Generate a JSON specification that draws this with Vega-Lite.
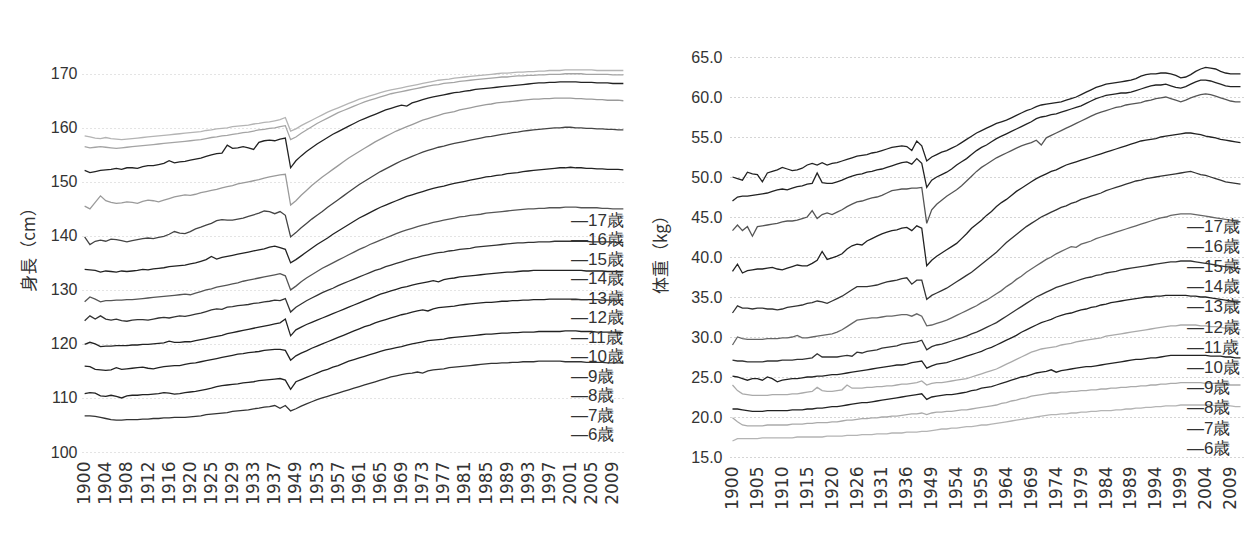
{
"$schema":"https://vega.github.io/schema/vega-lite/v6.json",
"background":"white",
"padding":{"left":20,"top":49,"right":5,"bottom":5},
"spacing":26,
"datasets":{
"height":[
{"t":"1900","6":106.7,"7":110.8,"8":115.9,"9":119.9,"10":124.3,"11":127.8,"12":133.8,"13":139.8,"14":145.5,"15":152.1,"16":156.5,"17":158.5},
{"t":"1901","6":106.7,"7":111.0,"8":115.8,"9":120.3,"10":125.2,"11":128.7,"12":133.7,"13":138.4,"14":145.0,"15":151.7,"16":156.3,"17":158.3},
{"t":"1902","6":106.6,"7":110.9,"8":115.3,"9":120.0,"10":124.6,"11":128.3,"12":133.6,"13":139.0,"14":146.2,"15":151.9,"16":156.4,"17":158.1},
{"t":"1903","6":106.4,"7":110.4,"8":115.2,"9":119.5,"10":125.2,"11":127.8,"12":133.3,"13":139.2,"14":147.4,"15":152.1,"16":156.5,"17":158.0},
{"t":"1904","6":106.2,"7":110.3,"8":115.1,"9":119.6,"10":124.6,"11":128.0,"12":133.5,"13":139.0,"14":146.5,"15":152.2,"16":156.4,"17":158.2},
{"t":"1905","6":106.0,"7":110.5,"8":115.2,"9":119.6,"10":124.4,"11":128.0,"12":133.4,"13":139.4,"14":146.2,"15":152.3,"16":156.3,"17":158.0},
{"t":"1906","6":105.9,"7":110.3,"8":115.6,"9":119.7,"10":124.6,"11":128.1,"12":133.3,"13":139.3,"14":146.0,"15":152.5,"16":156.2,"17":157.9},
{"t":"1907","6":105.9,"7":110.0,"8":115.3,"9":119.7,"10":124.3,"11":128.1,"12":133.5,"13":139.1,"14":146.1,"15":152.3,"16":156.3,"17":157.8},
{"t":"1908","6":106.0,"7":110.4,"8":115.4,"9":119.7,"10":124.2,"11":128.2,"12":133.4,"13":138.9,"14":146.3,"15":152.6,"16":156.4,"17":157.9},
{"t":"1909","6":106.0,"7":110.5,"8":115.5,"9":119.8,"10":124.4,"11":128.2,"12":133.5,"13":139.1,"14":146.2,"15":152.6,"16":156.5,"17":158.0},
{"t":"1910","6":106.0,"7":110.5,"8":115.6,"9":119.8,"10":124.5,"11":128.3,"12":133.6,"13":139.3,"14":146.0,"15":152.5,"16":156.6,"17":158.1},
{"t":"1911","6":106.1,"7":110.6,"8":115.7,"9":119.9,"10":124.5,"11":128.4,"12":133.8,"13":139.5,"14":146.4,"15":152.8,"16":156.7,"17":158.2},
{"t":"1912","6":106.1,"7":110.6,"8":115.5,"9":119.9,"10":124.4,"11":128.5,"12":133.7,"13":139.6,"14":146.6,"15":153.0,"16":156.8,"17":158.3},
{"t":"1913","6":106.2,"7":110.7,"8":115.4,"9":120.0,"10":124.6,"11":128.6,"12":133.9,"13":139.5,"14":146.5,"15":153.0,"16":156.9,"17":158.4},
{"t":"1914","6":106.2,"7":110.8,"8":115.6,"9":120.1,"10":124.8,"11":128.7,"12":134.0,"13":139.7,"14":146.3,"15":153.2,"16":157.0,"17":158.5},
{"t":"1915","6":106.3,"7":111.0,"8":115.8,"9":120.2,"10":124.9,"11":128.8,"12":134.1,"13":139.9,"14":146.6,"15":153.4,"16":157.1,"17":158.6},
{"t":"1916","6":106.3,"7":110.9,"8":115.9,"9":120.5,"10":124.8,"11":128.9,"12":134.3,"13":140.3,"14":146.9,"15":153.9,"16":157.2,"17":158.7},
{"t":"1917","6":106.4,"7":110.7,"8":116.0,"9":120.3,"10":125.0,"11":129.0,"12":134.4,"13":140.8,"14":147.2,"15":153.5,"16":157.3,"17":158.8},
{"t":"1918","6":106.4,"7":110.8,"8":116.0,"9":120.3,"10":125.2,"11":129.1,"12":134.5,"13":140.5,"14":147.4,"15":153.7,"16":157.4,"17":158.9},
{"t":"1919","6":106.4,"7":111.0,"8":116.2,"9":120.4,"10":125.1,"11":129.2,"12":134.6,"13":140.4,"14":147.6,"15":153.8,"16":157.5,"17":159.0},
{"t":"1920","6":106.5,"7":111.1,"8":116.4,"9":120.4,"10":125.3,"11":129.1,"12":134.8,"13":140.8,"14":147.5,"15":154.0,"16":157.6,"17":159.1},
{"t":"1921","6":106.6,"7":111.2,"8":116.5,"9":120.6,"10":125.5,"11":129.4,"12":135.0,"13":141.3,"14":147.7,"15":154.2,"16":157.7,"17":159.2},
{"t":"1922","6":106.7,"7":111.4,"8":116.7,"9":120.8,"10":125.7,"11":129.7,"12":135.3,"13":141.6,"14":148.0,"15":154.4,"16":157.8,"17":159.3},
{"t":"1924","6":106.9,"7":111.6,"8":116.9,"9":121.0,"10":126.0,"11":130.0,"12":135.6,"13":142.0,"14":148.2,"15":154.7,"16":158.0,"17":159.5},
{"t":"1925","6":107.0,"7":111.8,"8":117.1,"9":121.2,"10":126.3,"11":130.2,"12":136.2,"13":142.3,"14":148.4,"15":155.0,"16":158.2,"17":159.6},
{"t":"1926","6":107.1,"7":112.1,"8":117.3,"9":121.4,"10":126.5,"11":130.5,"12":135.7,"13":142.8,"14":148.6,"15":155.2,"16":158.3,"17":159.8},
{"t":"1927","6":107.2,"7":112.3,"8":117.5,"9":121.6,"10":126.4,"11":130.7,"12":136.0,"13":143.0,"14":148.9,"15":155.3,"16":158.5,"17":159.9},
{"t":"1928","6":107.3,"7":112.4,"8":117.7,"9":121.9,"10":126.8,"11":130.9,"12":136.2,"13":142.9,"14":149.1,"15":156.8,"16":158.6,"17":160.0},
{"t":"1929","6":107.5,"7":112.5,"8":117.9,"9":122.1,"10":126.9,"11":131.1,"12":136.4,"13":142.9,"14":149.3,"15":156.2,"16":158.8,"17":160.2},
{"t":"1930","6":107.6,"7":112.6,"8":118.1,"9":122.3,"10":127.1,"11":131.3,"12":136.6,"13":143.1,"14":149.6,"15":156.3,"16":158.9,"17":160.3},
{"t":"1931","6":107.7,"7":112.8,"8":118.2,"9":122.5,"10":127.2,"11":131.6,"12":136.8,"13":143.3,"14":149.8,"15":156.5,"16":159.1,"17":160.4},
{"t":"1932","6":107.8,"7":112.9,"8":118.4,"9":122.7,"10":127.3,"11":131.8,"12":137.0,"13":143.6,"14":150.0,"15":156.3,"16":159.2,"17":160.5},
{"t":"1933","6":108.0,"7":113.0,"8":118.5,"9":122.9,"10":127.5,"11":132.0,"12":137.2,"13":143.9,"14":150.2,"15":156.0,"16":159.4,"17":160.7},
{"t":"1934","6":108.1,"7":113.2,"8":118.6,"9":123.1,"10":127.6,"11":132.2,"12":137.4,"13":144.2,"14":150.4,"15":157.3,"16":159.6,"17":160.8},
{"t":"1935","6":108.3,"7":113.3,"8":118.8,"9":123.3,"10":127.8,"11":132.4,"12":137.6,"13":144.6,"14":150.7,"15":157.6,"16":159.7,"17":161.0},
{"t":"1936","6":108.4,"7":113.4,"8":118.9,"9":123.5,"10":127.9,"11":132.6,"12":137.9,"13":144.5,"14":150.9,"15":157.7,"16":159.9,"17":161.1},
{"t":"1937","6":108.6,"7":113.5,"8":119.0,"9":123.7,"10":128.1,"11":132.8,"12":138.1,"13":144.1,"14":151.1,"15":157.6,"16":160.0,"17":161.3},
{"t":"1938","6":108.1,"7":113.6,"8":119.0,"9":123.9,"10":128.0,"11":133.0,"12":137.8,"13":144.5,"14":151.3,"15":157.9,"16":160.2,"17":161.5},
{"t":"1939","6":108.6,"7":113.3,"8":118.8,"9":124.6,"10":128.4,"11":132.6,"12":137.5,"13":143.8,"14":151.4,"15":158.1,"16":160.4,"17":161.9},
{"t":"1948","6":107.6,"7":111.6,"8":117.0,"9":121.5,"10":125.9,"11":130.0,"12":135.0,"13":139.8,"14":145.7,"15":152.6,"16":157.8,"17":159.4},
{"t":"1949","6":108.0,"7":113.0,"8":117.8,"9":122.6,"10":126.8,"11":130.7,"12":135.6,"13":140.6,"14":146.5,"15":153.9,"16":158.3,"17":159.8},
{"t":"1950","6":108.5,"7":113.4,"8":118.3,"9":123.1,"10":127.4,"11":131.5,"12":136.3,"13":141.5,"14":147.5,"15":154.8,"16":159.0,"17":160.4},
{"t":"1951","6":108.9,"7":113.8,"8":118.7,"9":123.6,"10":128.0,"11":132.2,"12":137.0,"13":142.3,"14":148.4,"15":155.6,"16":159.6,"17":160.9},
{"t":"1952","6":109.3,"7":114.2,"8":119.2,"9":124.0,"10":128.5,"11":132.8,"12":137.7,"13":143.1,"14":149.3,"15":156.3,"16":160.2,"17":161.4},
{"t":"1953","6":109.7,"7":114.6,"8":119.6,"9":124.4,"10":129.0,"11":133.4,"12":138.4,"13":143.8,"14":150.1,"15":157.0,"16":160.8,"17":161.9},
{"t":"1954","6":110.0,"7":115.0,"8":120.0,"9":124.8,"10":129.5,"11":134.0,"12":139.0,"13":144.5,"14":150.9,"15":157.6,"16":161.3,"17":162.4},
{"t":"1955","6":110.3,"7":115.3,"8":120.4,"9":125.2,"10":129.9,"11":134.5,"12":139.6,"13":145.3,"14":151.6,"15":158.2,"16":161.8,"17":162.9},
{"t":"1956","6":110.6,"7":115.7,"8":120.8,"9":125.6,"10":130.3,"11":135.0,"12":140.3,"13":146.0,"14":152.3,"15":158.8,"16":162.3,"17":163.3},
{"t":"1957","6":110.9,"7":116.0,"8":121.2,"9":126.0,"10":130.8,"11":135.5,"12":140.9,"13":146.7,"14":153.0,"15":159.3,"16":162.8,"17":163.7},
{"t":"1958","6":111.2,"7":116.4,"8":121.6,"9":126.4,"10":131.2,"11":136.0,"12":141.5,"13":147.4,"14":153.7,"15":159.8,"16":163.2,"17":164.1},
{"t":"1959","6":111.5,"7":116.8,"8":122.0,"9":126.8,"10":131.6,"11":136.5,"12":142.1,"13":148.1,"14":154.4,"15":160.3,"16":163.6,"17":164.5},
{"t":"1960","6":111.8,"7":117.1,"8":122.4,"9":127.2,"10":132.0,"11":137.0,"12":142.7,"13":148.8,"14":155.0,"15":160.8,"16":164.0,"17":164.9},
{"t":"1961","6":112.1,"7":117.4,"8":122.8,"9":127.6,"10":132.4,"11":137.5,"12":143.3,"13":149.5,"14":155.6,"15":161.3,"16":164.4,"17":165.3},
{"t":"1962","6":112.4,"7":117.7,"8":123.2,"9":128.0,"10":132.8,"11":137.9,"12":143.8,"13":150.1,"14":156.2,"15":161.7,"16":164.8,"17":165.6},
{"t":"1963","6":112.7,"7":118.0,"8":123.5,"9":128.4,"10":133.2,"11":138.4,"12":144.3,"13":150.7,"14":156.8,"15":162.1,"16":165.1,"17":165.9},
{"t":"1964","6":113.0,"7":118.3,"8":123.9,"9":128.8,"10":133.6,"11":138.8,"12":144.8,"13":151.3,"14":157.4,"15":162.5,"16":165.4,"17":166.2},
{"t":"1965","6":113.3,"7":118.6,"8":124.2,"9":129.2,"10":133.9,"11":139.2,"12":145.3,"13":151.9,"14":157.9,"15":162.9,"16":165.7,"17":166.5},
{"t":"1966","6":113.6,"7":118.9,"8":124.5,"9":129.5,"10":134.3,"11":139.6,"12":145.7,"13":152.4,"14":158.4,"15":163.3,"16":166.0,"17":166.8},
{"t":"1967","6":113.9,"7":119.1,"8":124.8,"9":129.8,"10":134.6,"11":140.0,"12":146.1,"13":152.9,"14":158.9,"15":163.6,"16":166.3,"17":167.0},
{"t":"1968","6":114.1,"7":119.3,"8":125.1,"9":130.1,"10":134.9,"11":140.4,"12":146.5,"13":153.4,"14":159.4,"15":163.9,"16":166.5,"17":167.2},
{"t":"1969","6":114.3,"7":119.5,"8":125.4,"9":130.4,"10":135.2,"11":140.8,"12":146.9,"13":153.9,"14":159.8,"15":164.2,"16":166.7,"17":167.4},
{"t":"1970","6":114.5,"7":119.8,"8":125.6,"9":130.6,"10":135.5,"11":141.1,"12":147.3,"13":154.3,"14":160.2,"15":164.0,"16":166.9,"17":167.6},
{"t":"1971","6":114.6,"7":120.0,"8":125.9,"9":130.9,"10":135.8,"11":141.4,"12":147.6,"13":154.7,"14":160.6,"15":164.6,"16":167.1,"17":167.8},
{"t":"1972","6":114.8,"7":120.2,"8":126.1,"9":131.1,"10":136.0,"11":141.7,"12":147.9,"13":155.1,"14":161.0,"15":164.9,"16":167.3,"17":168.0},
{"t":"1973","6":114.6,"7":120.4,"8":126.3,"9":131.3,"10":136.3,"11":142.0,"12":148.2,"13":155.5,"14":161.4,"15":165.2,"16":167.5,"17":168.2},
{"t":"1974","6":115.0,"7":120.6,"8":126.1,"9":131.5,"10":136.5,"11":142.2,"12":148.5,"13":155.8,"14":161.7,"15":165.5,"16":167.7,"17":168.4},
{"t":"1975","6":115.2,"7":120.7,"8":126.5,"9":131.7,"10":136.7,"11":142.5,"12":148.8,"13":156.1,"14":162.0,"15":165.7,"16":167.9,"17":168.6},
{"t":"1976","6":115.3,"7":120.8,"8":126.7,"9":131.5,"10":136.9,"11":142.7,"12":149.0,"13":156.4,"14":162.3,"15":165.9,"16":168.0,"17":168.8},
{"t":"1977","6":115.4,"7":120.9,"8":126.8,"9":131.9,"10":137.0,"11":142.9,"12":149.2,"13":156.6,"14":162.6,"15":166.1,"16":168.2,"17":168.9},
{"t":"1978","6":115.6,"7":121.1,"8":126.9,"9":132.1,"10":137.2,"11":143.1,"12":149.5,"13":156.9,"14":162.8,"15":166.3,"16":168.3,"17":169.0},
{"t":"1979","6":115.7,"7":121.2,"8":127.0,"9":132.2,"10":137.3,"11":143.3,"12":149.7,"13":157.1,"14":163.0,"15":166.5,"16":168.4,"17":169.2},
{"t":"1980","6":115.8,"7":121.3,"8":127.2,"9":132.4,"10":137.5,"11":143.5,"12":149.9,"13":157.3,"14":163.3,"15":166.6,"16":168.6,"17":169.3},
{"t":"1981","6":115.9,"7":121.4,"8":127.3,"9":132.5,"10":137.6,"11":143.6,"12":150.1,"13":157.5,"14":163.5,"15":166.8,"16":168.7,"17":169.4},
{"t":"1982","6":116.0,"7":121.5,"8":127.4,"9":132.6,"10":137.7,"11":143.8,"12":150.3,"13":157.7,"14":163.7,"15":166.9,"16":168.8,"17":169.5},
{"t":"1983","6":116.1,"7":121.6,"8":127.5,"9":132.7,"10":137.9,"11":143.9,"12":150.5,"13":157.9,"14":163.9,"15":167.1,"16":168.9,"17":169.6},
{"t":"1984","6":116.2,"7":121.7,"8":127.6,"9":132.8,"10":138.0,"11":144.0,"12":150.7,"13":158.1,"14":164.1,"15":167.2,"16":169.0,"17":169.7},
{"t":"1985","6":116.3,"7":121.8,"8":127.7,"9":132.9,"10":138.1,"11":144.2,"12":150.9,"13":158.3,"14":164.3,"15":167.3,"16":169.1,"17":169.8},
{"t":"1986","6":116.4,"7":121.8,"8":127.7,"9":133.0,"10":138.2,"11":144.3,"12":151.0,"13":158.4,"14":164.4,"15":167.4,"16":169.2,"17":169.9},
{"t":"1987","6":116.4,"7":121.9,"8":127.8,"9":133.1,"10":138.3,"11":144.4,"12":151.2,"13":158.6,"14":164.6,"15":167.5,"16":169.3,"17":170.0},
{"t":"1988","6":116.5,"7":122.0,"8":127.9,"9":133.2,"10":138.4,"11":144.5,"12":151.3,"13":158.8,"14":164.7,"15":167.6,"16":169.4,"17":170.1},
{"t":"1989","6":116.5,"7":122.0,"8":127.9,"9":133.3,"10":138.5,"11":144.6,"12":151.5,"13":158.9,"14":164.8,"15":167.7,"16":169.4,"17":170.1},
{"t":"1990","6":116.6,"7":122.1,"8":128.0,"9":133.3,"10":138.6,"11":144.7,"12":151.6,"13":159.1,"14":164.9,"15":167.8,"16":169.5,"17":170.2},
{"t":"1991","6":116.6,"7":122.1,"8":128.0,"9":133.4,"10":138.7,"11":144.8,"12":151.7,"13":159.2,"14":165.0,"15":167.9,"16":169.6,"17":170.3},
{"t":"1992","6":116.7,"7":122.2,"8":128.1,"9":133.5,"10":138.7,"11":144.9,"12":151.9,"13":159.4,"14":165.1,"15":168.0,"16":169.6,"17":170.3},
{"t":"1993","6":116.7,"7":122.2,"8":128.1,"9":133.5,"10":138.8,"11":145.0,"12":152.0,"13":159.5,"14":165.2,"15":168.1,"16":169.7,"17":170.4},
{"t":"1994","6":116.7,"7":122.2,"8":128.2,"9":133.6,"10":138.8,"11":145.0,"12":152.1,"13":159.6,"14":165.3,"15":168.2,"16":169.7,"17":170.4},
{"t":"1995","6":116.8,"7":122.3,"8":128.2,"9":133.6,"10":138.9,"11":145.1,"12":152.2,"13":159.7,"14":165.3,"15":168.3,"16":169.8,"17":170.5},
{"t":"1996","6":116.8,"7":122.3,"8":128.2,"9":133.6,"10":138.9,"11":145.1,"12":152.3,"13":159.8,"14":165.4,"15":168.3,"16":169.8,"17":170.5},
{"t":"1997","6":116.8,"7":122.3,"8":128.3,"9":133.6,"10":138.9,"11":145.2,"12":152.4,"13":159.9,"14":165.4,"15":168.4,"16":169.9,"17":170.6},
{"t":"1998","6":116.8,"7":122.3,"8":128.3,"9":133.6,"10":139.0,"11":145.2,"12":152.5,"13":160.0,"14":165.5,"15":168.4,"16":169.9,"17":170.6},
{"t":"1999","6":116.8,"7":122.3,"8":128.3,"9":133.6,"10":139.0,"11":145.2,"12":152.6,"13":160.0,"14":165.5,"15":168.5,"16":169.9,"17":170.6},
{"t":"2000","6":116.7,"7":122.4,"8":128.3,"9":133.6,"10":139.0,"11":145.3,"12":152.6,"13":160.1,"14":165.5,"15":168.5,"16":170.0,"17":170.7},
{"t":"2001","6":116.7,"7":122.4,"8":128.3,"9":133.6,"10":139.0,"11":145.3,"12":152.7,"13":160.1,"14":165.5,"15":168.5,"16":170.0,"17":170.7},
{"t":"2002","6":116.7,"7":122.4,"8":128.3,"9":133.6,"10":139.0,"11":145.3,"12":152.6,"13":160.0,"14":165.4,"15":168.5,"16":170.0,"17":170.7},
{"t":"2003","6":116.7,"7":122.3,"8":128.2,"9":133.6,"10":139.0,"11":145.2,"12":152.6,"13":160.0,"14":165.4,"15":168.4,"16":170.0,"17":170.7},
{"t":"2004","6":116.6,"7":122.3,"8":128.2,"9":133.5,"10":139.0,"11":145.2,"12":152.5,"13":159.9,"14":165.3,"15":168.4,"16":169.9,"17":170.7},
{"t":"2005","6":116.6,"7":122.3,"8":128.2,"9":133.5,"10":138.9,"11":145.2,"12":152.5,"13":159.9,"14":165.3,"15":168.4,"16":169.9,"17":170.7},
{"t":"2006","6":116.6,"7":122.2,"8":128.2,"9":133.5,"10":138.9,"11":145.2,"12":152.4,"13":159.8,"14":165.2,"15":168.3,"16":169.9,"17":170.6},
{"t":"2007","6":116.6,"7":122.2,"8":128.1,"9":133.5,"10":138.9,"11":145.1,"12":152.4,"13":159.8,"14":165.2,"15":168.3,"16":169.9,"17":170.6},
{"t":"2008","6":116.5,"7":122.2,"8":128.1,"9":133.4,"10":138.9,"11":145.1,"12":152.3,"13":159.7,"14":165.1,"15":168.3,"16":169.9,"17":170.6},
{"t":"2009","6":116.5,"7":122.2,"8":128.1,"9":133.4,"10":138.9,"11":145.0,"12":152.3,"13":159.7,"14":165.1,"15":168.2,"16":169.8,"17":170.6},
{"t":"2010","6":116.5,"7":122.1,"8":128.1,"9":133.4,"10":138.8,"11":145.0,"12":152.3,"13":159.6,"14":165.1,"15":168.2,"16":169.8,"17":170.6},
{"t":"2011","6":116.5,"7":122.1,"8":128.0,"9":133.4,"10":138.8,"11":145.0,"12":152.2,"13":159.6,"14":165.0,"15":168.2,"16":169.8,"17":170.6}
],
"weight":[
{"t":"1900","6":17.0,"7":19.9,"8":21.0,"9":24.0,"10":25.1,"11":27.1,"12":29.0,"13":33.0,"14":38.2,"15":43.3,"16":47.0,"17":50.0},
{"t":"1901","6":17.3,"7":19.4,"8":21.0,"9":23.3,"10":25.0,"11":27.0,"12":30.0,"13":33.9,"14":39.1,"15":44.0,"16":47.5,"17":49.8},
{"t":"1902","6":17.3,"7":19.0,"8":20.9,"9":22.9,"10":24.8,"11":27.0,"12":29.8,"13":33.6,"14":38.0,"15":43.3,"16":47.6,"17":49.6},
{"t":"1903","6":17.3,"7":18.9,"8":20.8,"9":22.8,"10":24.6,"11":26.9,"12":29.7,"13":33.6,"14":38.3,"15":43.8,"16":47.6,"17":50.6},
{"t":"1904","6":17.3,"7":18.9,"8":20.7,"9":22.7,"10":24.8,"11":26.9,"12":29.7,"13":33.5,"14":38.4,"15":42.6,"16":47.7,"17":50.4},
{"t":"1905","6":17.3,"7":18.9,"8":20.7,"9":22.7,"10":24.8,"11":26.9,"12":29.7,"13":33.6,"14":38.5,"15":43.8,"16":47.8,"17":50.3},
{"t":"1906","6":17.4,"7":18.9,"8":20.7,"9":22.7,"10":24.6,"11":26.9,"12":29.7,"13":33.6,"14":38.5,"15":43.9,"16":47.9,"17":49.4},
{"t":"1907","6":17.4,"7":19.0,"8":20.8,"9":22.7,"10":25.0,"11":27.0,"12":29.8,"13":33.5,"14":38.6,"15":44.0,"16":48.0,"17":50.5},
{"t":"1908","6":17.4,"7":19.0,"8":20.8,"9":22.8,"10":24.8,"11":27.0,"12":29.8,"13":33.5,"14":38.7,"15":44.1,"16":48.2,"17":50.7},
{"t":"1909","6":17.4,"7":19.0,"8":20.8,"9":22.8,"10":24.4,"11":27.0,"12":29.8,"13":33.4,"14":38.5,"15":44.2,"16":48.4,"17":50.9},
{"t":"1910","6":17.4,"7":19.0,"8":20.8,"9":22.8,"10":24.6,"11":27.1,"12":29.9,"13":33.5,"14":38.4,"15":44.4,"16":48.5,"17":51.2},
{"t":"1911","6":17.4,"7":19.0,"8":20.8,"9":22.8,"10":24.7,"11":27.1,"12":29.9,"13":33.7,"14":38.6,"15":44.5,"16":48.4,"17":51.0},
{"t":"1912","6":17.4,"7":19.1,"8":20.9,"9":22.9,"10":24.8,"11":27.1,"12":30.0,"13":33.8,"14":38.8,"15":44.5,"16":48.6,"17":50.8},
{"t":"1913","6":17.5,"7":19.1,"8":20.9,"9":22.9,"10":24.8,"11":27.2,"12":30.2,"13":33.9,"14":39.0,"15":44.6,"16":48.8,"17":50.9},
{"t":"1914","6":17.5,"7":19.1,"8":20.9,"9":23.0,"10":24.9,"11":27.2,"12":29.9,"13":34.0,"14":38.9,"15":44.8,"16":48.9,"17":51.1},
{"t":"1915","6":17.5,"7":19.2,"8":21.0,"9":23.1,"10":25.0,"11":27.3,"12":29.9,"13":34.2,"14":38.9,"15":45.0,"16":49.1,"17":51.5},
{"t":"1916","6":17.5,"7":19.2,"8":21.0,"9":23.2,"10":25.0,"11":27.4,"12":30.0,"13":34.3,"14":39.2,"15":45.8,"16":49.2,"17":51.7},
{"t":"1917","6":17.5,"7":19.3,"8":21.1,"9":23.7,"10":25.1,"11":27.9,"12":30.1,"13":34.5,"14":39.6,"15":44.8,"16":50.5,"17":51.5},
{"t":"1918","6":17.5,"7":19.3,"8":21.1,"9":23.3,"10":25.1,"11":27.5,"12":30.2,"13":34.4,"14":40.7,"15":45.3,"16":49.3,"17":51.8},
{"t":"1919","6":17.6,"7":19.3,"8":21.2,"9":23.2,"10":25.2,"11":27.5,"12":30.3,"13":34.2,"14":39.7,"15":45.5,"16":49.2,"17":51.5},
{"t":"1920","6":17.6,"7":19.4,"8":21.3,"9":23.2,"10":25.3,"11":27.5,"12":30.4,"13":34.5,"14":39.9,"15":45.3,"16":49.2,"17":51.7},
{"t":"1921","6":17.6,"7":19.4,"8":21.3,"9":23.3,"10":25.3,"11":27.5,"12":30.6,"13":34.8,"14":40.1,"15":45.6,"16":49.4,"17":51.8},
{"t":"1922","6":17.6,"7":19.5,"8":21.4,"9":23.4,"10":25.4,"11":27.6,"12":30.9,"13":35.1,"14":40.4,"15":45.9,"16":49.6,"17":52.0},
{"t":"1924","6":17.7,"7":19.6,"8":21.5,"9":24.0,"10":25.5,"11":27.7,"12":31.3,"13":35.5,"14":41.0,"15":46.3,"16":49.9,"17":52.2},
{"t":"1925","6":17.7,"7":19.6,"8":21.6,"9":23.6,"10":25.6,"11":27.6,"12":31.7,"13":35.9,"14":41.4,"15":46.6,"16":50.1,"17":52.4},
{"t":"1926","6":17.7,"7":19.7,"8":21.7,"9":23.6,"10":25.7,"11":28.1,"12":32.1,"13":36.3,"14":41.6,"15":46.9,"16":50.3,"17":52.6},
{"t":"1927","6":17.8,"7":19.8,"8":21.8,"9":23.6,"10":25.8,"11":28.0,"12":32.2,"13":36.3,"14":41.5,"15":47.0,"16":50.4,"17":52.7},
{"t":"1928","6":17.8,"7":19.8,"8":21.8,"9":23.7,"10":25.9,"11":28.2,"12":32.3,"13":36.3,"14":42.0,"15":47.2,"16":50.6,"17":52.8},
{"t":"1929","6":17.8,"7":19.9,"8":21.9,"9":23.7,"10":26.0,"11":28.3,"12":32.4,"13":36.4,"14":42.3,"15":47.4,"16":50.7,"17":53.0},
{"t":"1930","6":17.9,"7":19.9,"8":22.0,"9":23.8,"10":26.1,"11":28.4,"12":32.4,"13":36.5,"14":42.6,"15":47.5,"16":50.9,"17":53.1},
{"t":"1931","6":17.9,"7":20.0,"8":22.1,"9":23.8,"10":26.2,"11":28.6,"12":32.5,"13":36.7,"14":42.9,"15":47.7,"16":51.0,"17":53.3},
{"t":"1932","6":17.9,"7":20.0,"8":22.2,"9":23.9,"10":26.3,"11":28.7,"12":32.6,"13":36.9,"14":43.1,"15":48.0,"16":51.2,"17":53.5},
{"t":"1933","6":18.0,"7":20.1,"8":22.3,"9":23.9,"10":26.4,"11":28.8,"12":32.6,"13":37.0,"14":43.3,"15":48.3,"16":51.4,"17":53.7},
{"t":"1934","6":18.0,"7":20.1,"8":22.4,"9":24.0,"10":26.5,"11":28.9,"12":32.7,"13":37.1,"14":43.4,"15":48.4,"16":51.6,"17":53.8},
{"t":"1935","6":18.0,"7":20.2,"8":22.5,"9":24.1,"10":26.5,"11":29.1,"12":32.8,"13":37.3,"14":43.6,"15":48.5,"16":51.8,"17":53.9},
{"t":"1936","6":18.1,"7":20.3,"8":22.6,"9":24.1,"10":26.6,"11":29.2,"12":32.8,"13":37.4,"14":43.7,"15":48.5,"16":51.9,"17":53.8},
{"t":"1937","6":18.1,"7":20.4,"8":22.7,"9":24.2,"10":26.8,"11":29.3,"12":32.6,"13":36.6,"14":43.3,"15":48.6,"16":51.6,"17":53.3},
{"t":"1938","6":18.1,"7":20.4,"8":22.8,"9":24.3,"10":26.9,"11":29.4,"12":32.9,"13":37.1,"14":43.9,"15":48.6,"16":52.3,"17":54.5},
{"t":"1939","6":18.2,"7":20.5,"8":22.9,"9":24.5,"10":27.0,"11":29.6,"12":32.6,"13":37.1,"14":43.6,"15":48.7,"16":51.7,"17":53.9},
{"t":"1948","6":18.2,"7":20.3,"8":22.2,"9":24.0,"10":26.1,"11":28.4,"12":31.4,"13":34.7,"14":38.9,"15":44.2,"16":48.7,"17":52.0},
{"t":"1949","6":18.3,"7":20.5,"8":22.5,"9":24.2,"10":26.4,"11":28.8,"12":31.5,"13":35.2,"14":39.6,"15":45.9,"16":49.6,"17":52.5},
{"t":"1950","6":18.4,"7":20.6,"8":22.6,"9":24.3,"10":26.6,"11":29.0,"12":31.7,"13":35.5,"14":40.1,"15":46.6,"16":50.0,"17":52.8},
{"t":"1951","6":18.5,"7":20.6,"8":22.7,"9":24.3,"10":26.7,"11":29.1,"12":31.9,"13":35.8,"14":40.5,"15":47.1,"16":50.3,"17":53.1},
{"t":"1952","6":18.5,"7":20.7,"8":22.8,"9":24.4,"10":26.8,"11":29.3,"12":32.1,"13":36.1,"14":40.9,"15":47.6,"16":50.6,"17":53.3},
{"t":"1953","6":18.6,"7":20.7,"8":22.8,"9":24.5,"10":27.0,"11":29.5,"12":32.4,"13":36.5,"14":41.3,"15":48.0,"16":51.0,"17":53.6},
{"t":"1954","6":18.6,"7":20.8,"8":22.9,"9":24.6,"10":27.2,"11":29.7,"12":32.7,"13":36.9,"14":41.7,"15":48.4,"16":51.5,"17":53.9},
{"t":"1955","6":18.7,"7":20.9,"8":23.0,"9":24.7,"10":27.4,"11":29.9,"12":33.0,"13":37.3,"14":42.3,"15":48.9,"16":51.9,"17":54.3},
{"t":"1956","6":18.8,"7":20.9,"8":23.1,"9":24.8,"10":27.6,"11":30.1,"12":33.3,"13":37.7,"14":42.9,"15":49.5,"16":52.3,"17":54.7},
{"t":"1957","6":18.8,"7":21.0,"8":23.3,"9":25.0,"10":27.8,"11":30.4,"12":33.6,"13":38.1,"14":43.6,"15":50.1,"16":52.8,"17":55.1},
{"t":"1958","6":18.9,"7":21.1,"8":23.4,"9":25.2,"10":28.0,"11":30.6,"12":33.9,"13":38.6,"14":44.1,"15":50.7,"16":53.3,"17":55.5},
{"t":"1959","6":19.0,"7":21.2,"8":23.6,"9":25.4,"10":28.2,"11":30.9,"12":34.3,"13":39.1,"14":44.6,"15":51.2,"16":53.7,"17":55.8},
{"t":"1960","6":19.0,"7":21.3,"8":23.7,"9":25.6,"10":28.5,"11":31.2,"12":34.6,"13":39.6,"14":45.2,"15":51.6,"16":54.0,"17":56.1},
{"t":"1961","6":19.1,"7":21.4,"8":23.8,"9":25.8,"10":28.7,"11":31.5,"12":35.0,"13":40.1,"14":45.7,"15":52.0,"16":54.4,"17":56.4},
{"t":"1962","6":19.2,"7":21.5,"8":24.0,"9":26.0,"10":29.0,"11":31.8,"12":35.4,"13":40.6,"14":46.3,"15":52.4,"16":54.8,"17":56.7},
{"t":"1963","6":19.3,"7":21.7,"8":24.2,"9":26.3,"10":29.3,"11":32.2,"12":35.8,"13":41.2,"14":46.8,"15":52.7,"16":55.1,"17":56.9},
{"t":"1964","6":19.4,"7":21.8,"8":24.4,"9":26.6,"10":29.6,"11":32.6,"12":36.3,"13":41.8,"14":47.2,"15":53.0,"16":55.4,"17":57.1},
{"t":"1965","6":19.5,"7":22.0,"8":24.6,"9":26.9,"10":29.9,"11":33.0,"12":36.7,"13":42.3,"14":47.7,"15":53.3,"16":55.7,"17":57.4},
{"t":"1966","6":19.6,"7":22.1,"8":24.8,"9":27.2,"10":30.2,"11":33.4,"12":37.2,"13":42.8,"14":48.2,"15":53.6,"16":56.0,"17":57.7},
{"t":"1967","6":19.7,"7":22.3,"8":25.0,"9":27.5,"10":30.6,"11":33.8,"12":37.6,"13":43.3,"14":48.6,"15":53.9,"16":56.3,"17":58.0},
{"t":"1968","6":19.8,"7":22.4,"8":25.1,"9":27.8,"10":30.9,"11":34.2,"12":38.1,"13":43.8,"14":49.0,"15":54.1,"16":56.6,"17":58.3},
{"t":"1969","6":19.9,"7":22.6,"8":25.3,"9":28.1,"10":31.2,"11":34.6,"12":38.5,"13":44.2,"14":49.4,"15":54.3,"16":56.9,"17":58.5},
{"t":"1970","6":20.0,"7":22.7,"8":25.5,"9":28.3,"10":31.5,"11":35.0,"12":38.9,"13":44.6,"14":49.8,"15":54.6,"16":57.3,"17":58.8},
{"t":"1971","6":20.1,"7":22.8,"8":25.6,"9":28.5,"10":31.8,"11":35.3,"12":39.3,"13":45.0,"14":50.1,"15":54.0,"16":57.5,"17":59.0},
{"t":"1972","6":20.2,"7":22.9,"8":25.7,"9":28.6,"10":32.0,"11":35.6,"12":39.7,"13":45.3,"14":50.4,"15":54.9,"16":57.6,"17":59.1},
{"t":"1973","6":20.3,"7":23.0,"8":25.9,"9":28.7,"10":32.2,"11":35.9,"12":40.0,"13":45.6,"14":50.7,"15":55.2,"16":57.8,"17":59.2},
{"t":"1974","6":20.3,"7":23.0,"8":25.6,"9":28.8,"10":32.5,"11":36.2,"12":40.4,"13":45.9,"14":50.9,"15":55.5,"16":57.9,"17":59.3},
{"t":"1975","6":20.4,"7":23.1,"8":25.8,"9":29.0,"10":32.7,"11":36.4,"12":40.7,"13":46.2,"14":51.2,"15":55.8,"16":58.1,"17":59.4},
{"t":"1976","6":20.4,"7":23.1,"8":25.9,"9":29.1,"10":32.9,"11":36.6,"12":41.0,"13":46.4,"14":51.5,"15":56.1,"16":58.3,"17":59.6},
{"t":"1977","6":20.5,"7":23.2,"8":26.0,"9":29.2,"10":33.0,"11":36.8,"12":41.3,"13":46.7,"14":51.7,"15":56.4,"16":58.5,"17":59.8},
{"t":"1978","6":20.5,"7":23.2,"8":26.1,"9":29.4,"10":33.2,"11":37.0,"12":41.2,"13":46.9,"14":51.9,"15":56.7,"16":58.7,"17":60.0},
{"t":"1979","6":20.6,"7":23.3,"8":26.2,"9":29.5,"10":33.4,"11":37.2,"12":41.6,"13":47.2,"14":52.1,"15":57.0,"16":58.9,"17":60.3},
{"t":"1980","6":20.6,"7":23.3,"8":26.3,"9":29.6,"10":33.5,"11":37.4,"12":41.8,"13":47.4,"14":52.3,"15":57.3,"16":59.2,"17":60.6},
{"t":"1981","6":20.7,"7":23.4,"8":26.3,"9":29.7,"10":33.7,"11":37.5,"12":42.0,"13":47.6,"14":52.5,"15":57.6,"16":59.5,"17":60.9},
{"t":"1982","6":20.7,"7":23.4,"8":26.4,"9":29.8,"10":33.8,"11":37.7,"12":42.3,"13":47.8,"14":52.7,"15":57.9,"16":59.8,"17":61.2},
{"t":"1983","6":20.8,"7":23.5,"8":26.5,"9":29.9,"10":34.0,"11":37.8,"12":42.5,"13":48.0,"14":52.9,"15":58.1,"16":60.0,"17":61.4},
{"t":"1984","6":20.8,"7":23.5,"8":26.6,"9":30.1,"10":34.1,"11":38.0,"12":42.7,"13":48.3,"14":53.1,"15":58.3,"16":60.2,"17":61.6},
{"t":"1985","6":20.8,"7":23.6,"8":26.7,"9":30.2,"10":34.3,"11":38.1,"12":42.9,"13":48.5,"14":53.3,"15":58.5,"16":60.3,"17":61.7},
{"t":"1986","6":20.9,"7":23.6,"8":26.8,"9":30.3,"10":34.4,"11":38.2,"12":43.1,"13":48.7,"14":53.5,"15":58.7,"16":60.4,"17":61.8},
{"t":"1987","6":20.9,"7":23.7,"8":26.9,"9":30.4,"10":34.5,"11":38.4,"12":43.3,"13":48.9,"14":53.7,"15":58.8,"16":60.5,"17":61.9},
{"t":"1988","6":21.0,"7":23.7,"8":27.0,"9":30.5,"10":34.6,"11":38.5,"12":43.5,"13":49.1,"14":53.9,"15":59.0,"16":60.5,"17":62.0},
{"t":"1989","6":21.0,"7":23.8,"8":27.1,"9":30.6,"10":34.7,"11":38.6,"12":43.7,"13":49.3,"14":54.1,"15":59.1,"16":60.6,"17":62.1},
{"t":"1990","6":21.1,"7":23.8,"8":27.2,"9":30.7,"10":34.8,"11":38.7,"12":43.9,"13":49.5,"14":54.3,"15":59.2,"16":60.8,"17":62.3},
{"t":"1991","6":21.1,"7":23.9,"8":27.2,"9":30.8,"10":34.9,"11":38.8,"12":44.1,"13":49.6,"14":54.5,"15":59.3,"16":61.0,"17":62.6},
{"t":"1992","6":21.2,"7":23.9,"8":27.3,"9":30.9,"10":35.0,"11":38.9,"12":44.3,"13":49.8,"14":54.6,"15":59.5,"16":61.2,"17":62.8},
{"t":"1993","6":21.2,"7":24.0,"8":27.4,"9":31.0,"10":35.0,"11":39.0,"12":44.5,"13":49.9,"14":54.7,"15":59.6,"16":61.4,"17":62.9},
{"t":"1994","6":21.3,"7":24.0,"8":27.4,"9":31.1,"10":35.1,"11":39.1,"12":44.7,"13":50.0,"14":54.8,"15":59.8,"16":61.5,"17":62.9},
{"t":"1995","6":21.3,"7":24.1,"8":27.5,"9":31.2,"10":35.1,"11":39.2,"12":44.9,"13":50.1,"14":55.0,"15":59.9,"16":61.5,"17":63.0},
{"t":"1996","6":21.4,"7":24.1,"8":27.6,"9":31.3,"10":35.2,"11":39.3,"12":45.0,"13":50.2,"14":55.1,"15":60.0,"16":61.6,"17":63.0},
{"t":"1997","6":21.4,"7":24.2,"8":27.7,"9":31.4,"10":35.2,"11":39.4,"12":45.2,"13":50.3,"14":55.2,"15":59.8,"16":61.4,"17":62.9},
{"t":"1998","6":21.4,"7":24.2,"8":27.7,"9":31.4,"10":35.2,"11":39.4,"12":45.3,"13":50.4,"14":55.3,"15":59.6,"16":61.2,"17":62.7},
{"t":"1999","6":21.5,"7":24.3,"8":27.7,"9":31.5,"10":35.2,"11":39.5,"12":45.4,"13":50.5,"14":55.4,"15":59.4,"16":61.1,"17":62.4},
{"t":"2000","6":21.5,"7":24.3,"8":27.7,"9":31.5,"10":35.2,"11":39.5,"12":45.4,"13":50.6,"14":55.5,"15":59.6,"16":61.3,"17":62.5},
{"t":"2001","6":21.5,"7":24.3,"8":27.7,"9":31.5,"10":35.1,"11":39.5,"12":45.4,"13":50.7,"14":55.5,"15":59.9,"16":61.6,"17":62.8},
{"t":"2002","6":21.5,"7":24.3,"8":27.7,"9":31.5,"10":35.1,"11":39.4,"12":45.3,"13":50.5,"14":55.4,"15":60.1,"16":61.9,"17":63.2},
{"t":"2003","6":21.5,"7":24.3,"8":27.7,"9":31.4,"10":35.0,"11":39.3,"12":45.2,"13":50.3,"14":55.3,"15":60.3,"16":62.1,"17":63.5},
{"t":"2004","6":21.5,"7":24.2,"8":27.7,"9":31.4,"10":35.0,"11":39.2,"12":45.1,"13":50.2,"14":55.1,"15":60.4,"16":62.1,"17":63.7},
{"t":"2005","6":21.5,"7":24.2,"8":27.6,"9":31.3,"10":34.9,"11":39.1,"12":45.0,"13":50.0,"14":55.0,"15":60.3,"16":62.0,"17":63.6},
{"t":"2006","6":21.4,"7":24.2,"8":27.6,"9":31.3,"10":34.8,"11":39.0,"12":44.9,"13":49.8,"14":54.9,"15":60.1,"16":61.8,"17":63.5},
{"t":"2007","6":21.4,"7":24.1,"8":27.6,"9":31.2,"10":34.7,"11":38.9,"12":44.8,"13":49.6,"14":54.7,"15":59.9,"16":61.6,"17":63.2},
{"t":"2008","6":21.4,"7":24.1,"8":27.5,"9":31.1,"10":34.6,"11":38.8,"12":44.7,"13":49.4,"14":54.6,"15":59.7,"16":61.4,"17":63.0},
{"t":"2009","6":21.4,"7":24.0,"8":27.5,"9":31.0,"10":34.5,"11":38.7,"12":44.6,"13":49.3,"14":54.5,"15":59.5,"16":61.3,"17":62.9},
{"t":"2010","6":21.3,"7":24.0,"8":27.4,"9":31.0,"10":34.4,"11":38.6,"12":44.5,"13":49.2,"14":54.4,"15":59.4,"16":61.3,"17":62.9},
{"t":"2011","6":21.3,"7":24.0,"8":27.4,"9":30.9,"10":34.4,"11":38.5,"12":44.4,"13":49.1,"14":54.3,"15":59.4,"16":61.3,"17":62.9}
]
},
"hconcat":[
{
"data":{"name":"height"},
"transform":[{"fold":["17","16","15","14","13","12","11","10","9","8","7","6"],"as":["age","v"]}],
"width":544,"height":395,
"mark":{"type":"line","strokeWidth":1.3},
"encoding":{
"x":{"field":"t","type":"ordinal","scale":{"type":"point","padding":0.5},
"axis":{"title":null,"values":["1900","1904","1908","1912","1916","1920","1925","1929","1933","1937","1949","1953","1957","1961","1965","1969","1973","1977","1981","1985","1989","1993","1997","2001","2005","2009"],
"labelAngle":-90,"labelPadding":9,"labelFont":"DejaVu Sans","labelFontSize":17,"labelColor":"#333","domain":false,"ticks":false,"grid":false}},
"y":{"field":"v","type":"quantitative","scale":{"domain":[100,173.1],"nice":false,"zero":false},
"axis":{"title":"身長（cm）","values":[100,110,120,130,140,150,160,170],"format":"d","labelFont":"Liberation Sans","labelFontSize":16,"labelColor":"#333","labelPadding":5,"domain":false,"ticks":false,
"grid":true,"gridColor":"#c8c8c8","gridDash":[1,3],"gridWidth":1,
"titleFont":"Noto Sans CJK JP","titleFontSize":17,"titleFontWeight":"normal","titleColor":"#333","titlePadding":12,"titleY":188}},
"color":{"field":"age","type":"nominal",
"scale":{"domain":["17","16","15","14","13","12","11","10","9","8","7","6"],"range":["#b4b4b4","#a4a4a4","#222222","#9a9a9a","#444444","#222222","#555555","#333333","#222222","#222222","#222222","#333333"]},
"legend":{"orient":"none","legendX":472,"legendY":155,"title":null,"padding":0,"symbolType":"circle","symbolSize":1,"symbolOpacity":0,"labelFont":"Liberation Sans","labelFontSize":17,"labelColor":"#333","rowPadding":1.5,"labelOffset":0,"labelExpr":"'—' + datum.label + '歳'"}}
}
},
{
"data":{"name":"weight"},
"transform":[{"fold":["17","16","15","14","13","12","11","10","9","8","7","6"],"as":["age","v"]}],
"width":513,"height":400,
"mark":{"type":"line","strokeWidth":1.3},
"encoding":{
"x":{"field":"t","type":"ordinal","scale":{"type":"point","padding":0.5},
"axis":{"title":null,"values":["1900","1905","1910","1915","1920","1926","1931","1936","1949","1954","1959","1964","1969","1974","1979","1984","1989","1994","1999","2004","2009"],
"labelAngle":-90,"labelPadding":9,"labelFont":"DejaVu Sans","labelFontSize":17,"labelColor":"#333","domain":false,"ticks":false,"grid":false}},
"y":{"field":"v","type":"quantitative","scale":{"domain":[15,65],"nice":false,"zero":false},
"axis":{"title":"体重（kg）","values":[15,20,25,30,35,40,45,50,55,60,65],"format":".1f","labelFont":"Liberation Sans","labelFontSize":16,"labelColor":"#333","labelPadding":8,"domain":false,"ticks":false,
"grid":true,"gridColor":"#aaaaaa","gridDash":[1,3],"gridWidth":1,
"titleFont":"Noto Sans CJK JP","titleFontSize":17,"titleFontWeight":"normal","titleColor":"#333","titlePadding":20,"titleY":193}},
"color":{"field":"age","type":"nominal",
"scale":{"domain":["17","16","15","14","13","12","11","10","9","8","7","6"],"range":["#222222","#222222","#555555","#222222","#333333","#666666","#333333","#222222","#aaaaaa","#222222","#aaaaaa","#b4b4b4"]},
"legend":{"orient":"none","legendX":440,"legendY":161,"title":null,"padding":0,"symbolType":"circle","symbolSize":1,"symbolOpacity":0,"labelFont":"Liberation Sans","labelFontSize":17,"labelColor":"#333","rowPadding":2.2,"labelOffset":0,"labelExpr":"'—' + datum.label + '歳'"}}
}
}
],
"resolve":{"scale":{"color":"independent"},"legend":{"color":"independent"}},
"config":{"view":{"stroke":null}}
}
